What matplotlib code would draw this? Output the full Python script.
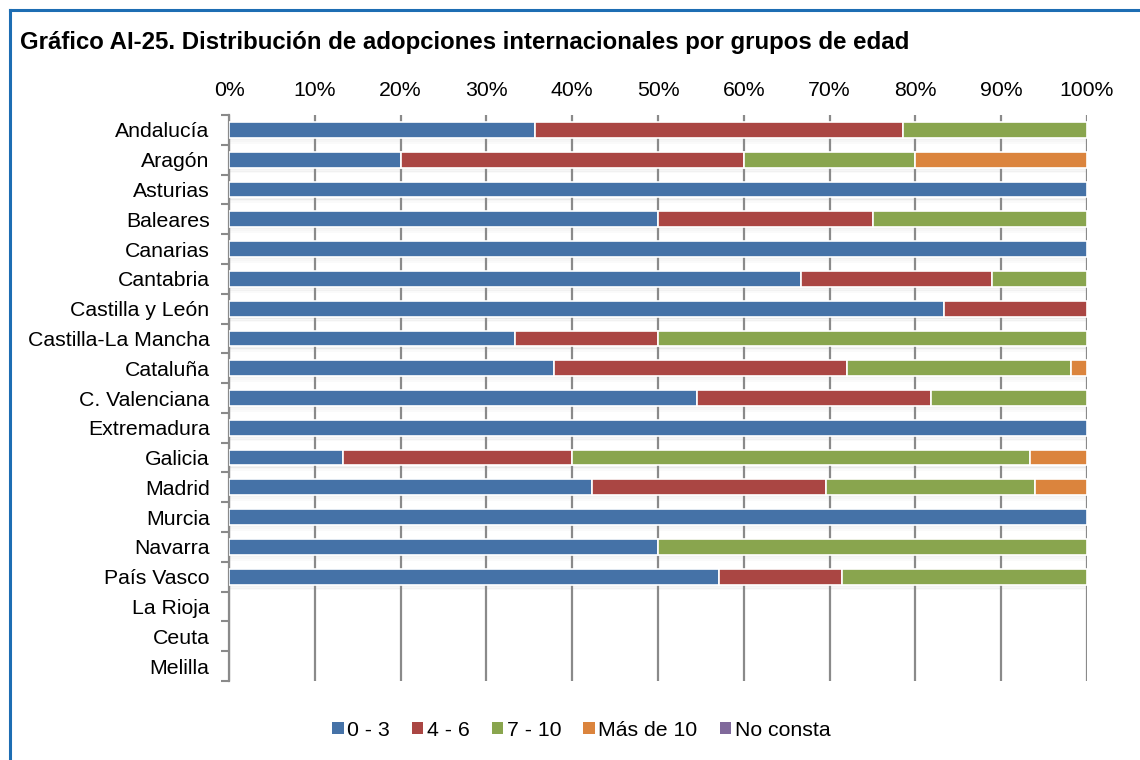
import matplotlib
matplotlib.use("Agg")
import matplotlib.pyplot as plt
import numpy as np
from matplotlib.lines import Line2D
from matplotlib.patches import Patch

plt.rcParams['font.family'] = ['Liberation Sans', 'DejaVu Sans']

regiones = ["Andalucía", "Aragón", "Asturias", "Baleares", "Canarias", "Cantabria",
            "Castilla y León", "Castilla-La Mancha", "Cataluña", "C. Valenciana",
            "Extremadura", "Galicia", "Madrid", "Murcia", "Navarra", "País Vasco",
            "La Rioja", "Ceuta", "Melilla"]

grupos = ["0 - 3", "4 - 6", "7 - 10", "Más de 10", "No consta"]

edad_0_3 = [35.7, 20.0, 100, 50.0, 100, 66.7, 83.3, 33.3, 37.9, 54.5, 100, 13.3, 42.3, 100, 50.0, 57.1, 0, 0, 0]
edad_4_6 = [42.9, 40.0, 0, 25.0, 0, 22.2, 16.7, 16.7, 34.1, 27.3, 0, 26.7, 27.3, 0, 0, 14.3, 0, 0, 0]
edad_7_10 = [21.4, 20.0, 0, 25.0, 0, 11.1, 0, 50.0, 26.1, 18.2, 0, 53.3, 24.3, 0, 50.0, 28.6, 0, 0, 0]
edad_mas_10 = [0, 20.0, 0, 0, 0, 0, 0, 0, 1.9, 0, 0, 6.7, 6.1, 0, 0, 0, 0, 0, 0]
no_consta = [0] * 19

colores = ["#4572A7", "#AA4643", "#89A54E", "#DB843D", "#80699B"]
ticks_x = [0, 10, 20, 30, 40, 50, 60, 70, 80, 90, 100]
tick_labels_x = [f"{t}%" for t in ticks_x]

fig = plt.figure(figsize=(11.4, 7.6), dpi=100)
ax = fig.add_axes([229/1140, 1 - 681/760, 858/1140, 566/760])

series = [edad_0_3, edad_4_6, edad_7_10, edad_mas_10, no_consta]
y = np.arange(len(regiones))
h = 0.53

totals = np.sum(np.array(series), axis=0)
# subtle shadow under bars
for yi, tot in zip(y, totals):
    if tot > 0:
        for k, a in enumerate([0.10, 0.07, 0.04]):
            ax.barh(yi + h/2 + 0.04 + k*0.06, tot, height=0.07, color="#808080",
                    alpha=a, linewidth=0, zorder=1)

left = np.zeros(len(regiones))
for vals, col, lab in zip(series, colores, grupos):
    vals = np.array(vals, dtype=float)
    bars = ax.barh(y, vals, left=left, height=h, color=col, edgecolor="white",
                   linewidth=1.2, label=lab, zorder=3)
    for b, v in zip(bars, vals):
        if v <= 0:
            b.set_visible(False)
    left += vals

ax.set_xlim(0, 100)
ax.set_ylim(len(regiones) - 0.5, -0.5)
ax.set_xticks(ticks_x)
ax.set_xticklabels(tick_labels_x)
ax.xaxis.tick_top()
ax.tick_params(axis='x', length=0, pad=11, labelsize=15.3, colors="black")
ax.xaxis.grid(True, color="#8a8a8a", linewidth=1.6, zorder=2)
ax.set_axisbelow(False)
for gl in ax.get_xgridlines():
    gl.set_zorder(2)

ax.set_yticks(y)
ax.set_yticklabels(regiones)
ax.tick_params(axis='y', length=0, pad=14, labelsize=15.3)
# category boundary ticks
ax.set_yticks(np.arange(-0.5, len(regiones), 1), minor=True)
ax.tick_params(axis='y', which='minor', length=6, width=1.5, color="#8a8a8a", direction='out')

for s in ["top", "right", "bottom"]:
    ax.spines[s].set_visible(False)
ax.spines["left"].set_color("#8a8a8a")
ax.spines["left"].set_linewidth(1.6)

fig.text(20/1140, 1 - 43/760, "Gráfico AI-25. Distribución de adopciones internacionales por grupos de edad",
         fontsize=17.3, fontweight="bold", va="center", ha="left")

handles = [Patch(facecolor=c, edgecolor="none") for c in colores]
fig.legend(handles, grupos, loc="center", bbox_to_anchor=(581/1140, 1 - 730/760), ncol=5,
           frameon=False, fontsize=15.3, handlelength=0.55, handleheight=0.55,
           handletextpad=0.15, columnspacing=1.05)

# outer border
fig.add_artist(Line2D([10/1140, 10/1140], [0, 1 - 10/760], transform=fig.transFigure,
                      color="#1d6db3", linewidth=2.2))
fig.add_artist(Line2D([10/1140, 1], [1 - 10/760, 1 - 10/760], transform=fig.transFigure,
                      color="#1d6db3", linewidth=2.2))

fig.savefig("out.png", dpi=100)
